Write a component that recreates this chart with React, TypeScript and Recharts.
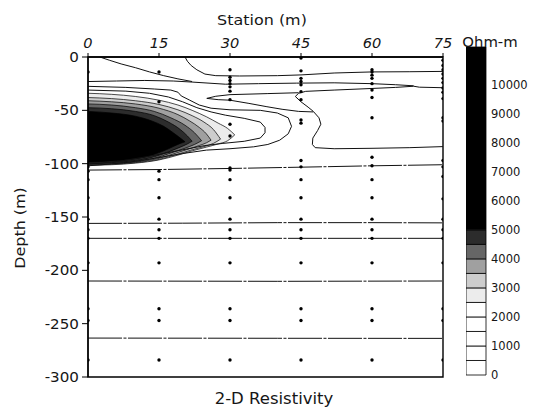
import React from 'react'
import {
  Area, Bar, BarChart, ComposedChart, Line, ReferenceArea, Scatter, XAxis, YAxis,
} from 'recharts'

// ─── axes ─────────────────────────────────────────────
const stationTicks = [0, 15, 30, 45, 60, 75]
const depthTicks = [0, -50, -100, -150, -200, -250, -300]
const scaleTicks = [0, 1000, 2000, 3000, 4000, 5000, 6000, 7000, 8000, 9000, 10000]

// ─── electrode / data points (station, depths) ───────
const deepDots = [-115, -132, -152, -162, -170, -193, -236, -247, -284]
const dots0 = [-14, -103, -107, ...deepDots]
const dots15 = [-14, -42, -107, ...deepDots]
const dots30 = [-12, -19, -22, -25, -28, -32, -40, -63, -74, -104, -106, ...deepDots]
const dots45 = [-1, -13, -20, -23, -26, -32.5, -40, -59, -62, -97, -103, ...deepDots]
const dots60 = [-12, -14, -17, -20, -25, -31, -38, -57, -94, -102, ...deepDots]
const dots75 = [-3, -8, -12, -16, -20, -24, -29, -33, -39, -57, -60, -97, -103, -112, -133, -152, -162, -170, -193, -236, -247, -284]

// ─── filled resistivity bands around the high body: [x, bottom, top] ───
const band2500 = [[0, -101.5, -34], [5, -101, -35], [10, -99.5, -37], [15, -96.5, -40.5], [19, -92, -45], [22, -88, -50], [25, -84.5, -56], [27.5, -81.5, -62], [29.5, -78.5, -67], [31, -73, -73]]
const band3000 = [[0, -101, -38], [5, -100.5, -39], [10, -99, -41], [15, -96, -44.5], [19, -91, -49.5], [22, -87, -55], [24.5, -84, -61], [26.5, -81, -68], [28, -77, -77]]
const band3500 = [[0, -100.5, -41], [5, -100, -42], [10, -98.5, -44], [15, -95, -48], [19, -89.5, -54], [21.5, -86, -60], [23.5, -83, -66], [25, -80.5, -72], [26, -78, -78]]
const band4000 = [[0, -100, -44], [5, -99.5, -45], [10, -98, -47.5], [14, -95, -51], [17.5, -90, -57], [20.5, -85.5, -64], [22.5, -82, -71], [24, -78.5, -78.5]]
const band4500 = [[0, -99.5, -47.5], [5, -99, -48.5], [10, -97, -51], [14, -93.5, -55], [17, -89, -61], [19.5, -84.5, -68], [21, -81.5, -74], [22, -79, -79]]
const band5000 = [[0, -98.5, -51], [5, -97.5, -52.5], [10, -95.5, -55.5], [13.5, -92, -60], [16, -88, -65], [18, -84, -71], [19.5, -81, -76], [20.5, -79.5, -79.5]]

// ─── contour lines: [x, depth] ────────────────────────
const lineB = [[20.5, 0], [21, -4], [21.8, -8], [23, -12], [24.7, -16], [27, -17.5], [32, -17.8], [40, -17.5], [45, -16.8], [52, -15], [60, -14], [68, -13.8], [75, -13.5]]
const lineA = [[2.5, 0], [4.5, -3], [7, -6.5], [10, -10], [13, -14], [16, -17.5], [19, -20.5], [22, -23]]
const lineW = [[0, -23], [6, -22.5], [12, -22], [18, -22.5], [22, -23.5], [29, -25.5], [36, -25], [44, -24.5], [52, -24.2], [60, -25], [65, -26], [68.8, -27]]
const lineR = [[75, -28.8], [70, -28.3], [68.8, -27.4], [65, -28.5], [60, -29.5], [52, -31], [46, -32.2], [44.5, -34], [43.8, -37], [45, -42], [46.5, -47], [47.6, -51], [48.8, -57], [49.2, -63], [48.5, -69], [47.5, -76], [47.4, -82], [48, -85], [52, -86], [60, -85.6], [68, -85], [75, -84]]
const lineT = [[44.5, -33.5], [38, -34.3], [30, -35.3], [27, -36.8], [25.1, -38.8], [27.5, -40], [30, -40.5], [34, -43.5], [37.8, -46.6], [41, -49], [44.5, -51], [47.6, -51.5]]
const line1500 = [[0, -27.5], [8, -28.5], [14, -30], [17.5, -31], [19, -33], [19.7, -36.5], [21.5, -40.5], [23.5, -45], [26, -48], [30, -49.5], [36.4, -50], [40, -52.5], [42.3, -57], [43, -65], [42.3, -72], [40.5, -78], [38, -82], [35, -84.2], [30, -86], [25, -87.3], [20, -90.5], [14, -95], [8, -99], [3, -101], [0, -102]]
const line2000 = [[0, -31], [8, -32], [13, -34], [17, -37.5], [20, -42], [23, -47.5], [26, -51.5], [29, -54.5], [33, -57.5], [36.4, -61], [37.4, -66], [37.4, -71], [36.4, -76], [33, -79], [28.5, -81], [24.7, -83], [20, -87], [13, -93], [7, -97.5], [0, -100.5]]
const line106 = [[0, -106], [15, -105.5], [30, -104.5], [45, -103.3], [60, -102], [75, -101]]
const line155 = [[0, -156], [20, -155.8], [40, -155.3], [60, -155.3], [75, -155.5]]
const line170 = [[0, -170], [30, -170], [75, -170]]
const line210 = [[0, -210], [40, -210.3], [75, -210]]
const line264 = [[0, -263.5], [40, -263.7], [75, -263.8]]

// ─── colour scale ─────────────────────────────────────
const scaleEdges = [0, 500, 1000, 1500, 2000, 2500, 3000, 3500, 4000, 4500, 5000, 11300]
const scaleFills = ['#fff', '#fff', '#fff', '#fff', '#fff', '#ececec', '#cdcdcd', '#a0a0a0', '#666', '#2c2c2c', '#000']

const FONT = '"DejaVu Sans", sans-serif'
const INK = '#161616'

const toPts = (arr: number[][]) => arr.map(([x, y]) => ({ x, y }))
const toBand = (arr: number[][]) => arr.map(([x, lo, hi]) => ({ x, r: [lo, hi] }))

const dotRows = [
  [0, dots0], [15, dots15], [30, dots30], [45, dots45], [60, dots60], [75, dots75],
].flatMap(([x, ds]) => (ds as number[]).map(y => ({ x: x as number, y })))

const bands: [number[][], string][] = [
  [band2500, scaleFills[5]], [band3000, scaleFills[6]], [band3500, scaleFills[7]],
  [band4000, scaleFills[8]], [band4500, scaleFills[9]], [band5000, scaleFills[10]],
]
const contours = [lineB, lineA, lineW, lineR, lineT, line1500, line2000]
const flatLines = [line106, line155, line170, line210, line264]

const scaleRow: Record<string, number | string> = { n: 'scale' }
scaleEdges.slice(1).forEach((e, i) => { scaleRow['s' + i] = e - scaleEdges[i] })

function StationTick({ x, y, payload }: any) {
  return (
    <text x={x} y={y} textAnchor="middle" fontFamily={FONT} fontSize={13.5} fontStyle="italic" fill={INK}
      transform={`translate(${x} ${y}) scale(1.08 1) translate(${-x} ${-y})`}>{payload.value}</text>
  )
}

function DepthTick({ x, y, payload }: any) {
  return (
    <text x={x} y={y} dy="0.36em" textAnchor="end" fontFamily={FONT} fontSize={13.5} fill={INK}
      transform={`translate(${x} ${y}) scale(1.12 1) translate(${-x} ${-y})`}>{payload.value}</text>
  )
}

function ScaleTick({ x, y, payload }: any) {
  return (
    <text x={x} y={y} dy="0.36em" textAnchor="start" fontFamily={FONT} fontSize={11.5} fill={INK}>{payload.value}</text>
  )
}

function Title({ text, x, y, size, rotate = 0 }: { text: string; x: number; y: number; size: number; rotate?: number }) {
  return (
    <div style={{
      position: 'absolute', left: x, top: y, whiteSpace: 'nowrap', lineHeight: 1,
      fontFamily: FONT, fontSize: size, color: INK,
      transform: `translate(-50%, -50%) rotate(${rotate}deg) scaleX(1.1)`,
    }}>{text}</div>
  )
}

export default function App() {
  return (
    <div style={{ position: 'absolute', left: 0, top: 0, width: 533, height: 415, background: '#fff' }}>
      <ComposedChart width={533} height={415} margin={{ top: 27, right: 90, bottom: 38, left: 0 }}>
        <XAxis type="number" dataKey="x" domain={[0, 75]} ticks={stationTicks} orientation="top" height={30}
          tick={<StationTick />} tickSize={4} tickMargin={5} axisLine={{ stroke: '#000', strokeWidth: 1.3 }}
          tickLine={{ stroke: '#000' }} allowDataOverflow />
        <YAxis type="number" dataKey="y" domain={[-300, 0]} ticks={depthTicks} width={88}
          tick={<DepthTick />} tickSize={6} tickMargin={3} axisLine={{ stroke: '#000', strokeWidth: 1.3 }}
          tickLine={{ stroke: '#000' }} allowDataOverflow />
        {bands.map(([rows, fill], i) => (
          <Area key={'b' + i} data={toBand(rows)} dataKey="r" type="monotone" fill={fill} fillOpacity={1}
            stroke="#000" strokeWidth={0.7} dot={false} activeDot={false} isAnimationActive={false} />
        ))}
        {contours.map((pts, i) => (
          <Line key={'c' + i} data={toPts(pts)} dataKey="y" type="linear" stroke="#111" strokeWidth={1}
            dot={false} activeDot={false} isAnimationActive={false} />
        ))}
        {flatLines.map((pts, i) => (
          <Line key={'h' + i} data={toPts(pts)} dataKey="y" type="linear" stroke="#111" strokeWidth={1}
            strokeDasharray="34 1.5 3 1.5" dot={false} activeDot={false} isAnimationActive={false} />
        ))}
        <Scatter data={dotRows} dataKey="y" fill="#000" isAnimationActive={false}
          shape={(p: any) => <circle cx={p.cx} cy={p.cy} r={1.7} fill="#000" />} />
        <ReferenceArea x1={0} x2={75} y1={-300} y2={0} fill="none" stroke="#000" strokeWidth={1.4} />
      </ComposedChart>

      <div style={{ position: 'absolute', left: 466, top: 0 }}>
        <BarChart width={67} height={415} data={[scaleRow]} margin={{ top: 47, right: 0, bottom: 40, left: 0 }}
          barCategoryGap={0}>
          <XAxis dataKey="n" hide />
          <YAxis orientation="right" type="number" domain={[0, 11300]} ticks={scaleTicks} width={47}
            tick={<ScaleTick />} tickSize={0} tickMargin={5} tickLine={false} axisLine={false} />
          {scaleFills.map((f, i) => (
            <Bar key={i} dataKey={'s' + i} stackId="s" fill={f} stroke="#000" strokeWidth={0.8}
              isAnimationActive={false} />
          ))}
        </BarChart>
      </div>

      <Title text="Station (m)" x={262} y={20} size={14.5} />
      <Title text="Depth (m)" x={20} y={228} size={14.5} rotate={-90} />
      <Title text="2-D Resistivity" x={274} y={399} size={15} />
      <Title text="Ohm-m" x={490} y={43} size={13.5} />
    </div>
  )
}
